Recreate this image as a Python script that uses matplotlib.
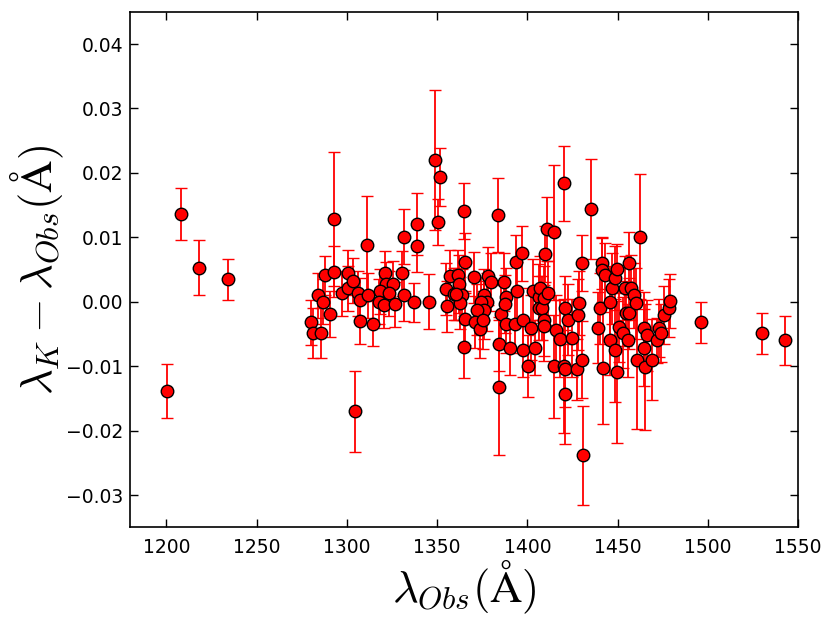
import matplotlib
matplotlib.use("Agg")
import matplotlib.pyplot as plt
import numpy as np

plt.rcParams['mathtext.fontset'] = 'cm'

wavelength = [
    1200.2, 1208.2, 1217.8, 1234.4,
    1280.2, 1281.3, 1283.9, 1285.8, 1286.9, 1288.0, 1290.9, 1293.1, 1293.1, 1297.2,
    1300.5, 1300.5, 1303.5, 1304.6, 1306.0, 1307.1, 1307.1, 1311.0, 1311.6, 1314.6,
    1321.2, 1321.8, 1325.8, 1318.1, 1323.2, 1317.7, 1320.3, 1326.9, 1331.4, 1330.4,
    1331.5, 1338.7, 1338.7, 1337.1, 1345.4,
    1348.7, 1351.5, 1350.4, 1354.8, 1355.3, 1357.4, 1359.2, 1361.8, 1362.4, 1363.7,
    1362.9, 1360.7, 1364.8, 1365.3, 1365.3, 1365.0, 1370.3, 1378.4, 1380.1, 1376.2,
    1377.9, 1374.4, 1376.2, 1372.0, 1371.1, 1373.5, 1375.7, 1384.0, 1385.5, 1384.2,
    1384.5, 1386.9, 1388.0, 1387.7, 1388.3, 1390.6, 1392.9, 1393.8, 1394.1,
    1397.1, 1397.8, 1397.5, 1400.2, 1402.3, 1403.4, 1404.1, 1406.3, 1406.7, 1407.1,
    1408.0, 1409.1, 1409.1, 1409.3, 1409.6, 1411.0, 1411.3, 1415.0, 1414.5, 1416.1,
    1418.0, 1420.4, 1420.6, 1420.2, 1420.9, 1420.9, 1422.4, 1425.0, 1427.6, 1427.9,
    1428.9, 1430.1, 1430.7, 1430.5, 1435.0, 1439.0, 1440.5, 1441.1, 1441.1, 1442.9,
    1442.2, 1445.6, 1445.9, 1446.8, 1448.3, 1448.8, 1449.8, 1449.8, 1451.0, 1453.2,
    1454.0, 1454.7, 1455.5, 1456.2, 1456.4, 1457.5, 1459.3, 1460.4, 1460.8, 1462.7,
    1464.5, 1464.5, 1465.0, 1466.5, 1468.8, 1471.9, 1472.8, 1474.1, 1475.6, 1478.3,
    1479.3,
    1496.3, 1530.3, 1543.0,
]

residual = [
    -0.0139, 0.0136, 0.0053, 0.0035,
    -0.0032, -0.0049, 0.0010, -0.0049, 0.0000, 0.0041, -0.0019, 0.0129, 0.0047, 0.0013,
    0.0045, 0.0021, 0.0033, -0.0170, 0.0013, -0.0030, 0.0002, 0.0088, 0.0010, -0.0034,
    0.0044, 0.0027, 0.0028, 0.0016, 0.0013, 0.0000, -0.0005, -0.0004, 0.0101, 0.0044,
    0.0010, 0.0121, 0.0086, -0.0001, 0.0000,
    0.0220, 0.0193, 0.0124, 0.0020, -0.0007, 0.0040, 0.0012, 0.0041, 0.0028, 0.0011,
    -0.0002, 0.0012, 0.0141, 0.0062, -0.0027, -0.0070, 0.0038, 0.0040, 0.0030, 0.0011,
    0.0000, -0.0001, -0.0013, -0.0012, -0.0031, -0.0042, -0.0029, 0.0135, -0.0019, -0.0066,
    -0.0133, 0.0030, 0.0008, -0.0003, -0.0034, -0.0072, -0.0034, 0.0062, 0.0016,
    0.0075, -0.0029, -0.0075, -0.0100, -0.0040, 0.0017, -0.0071, 0.0008, -0.0010, 0.0021,
    -0.0010, -0.0029, -0.0037, 0.0006, 0.0074, 0.0113, 0.0014, 0.0108, -0.0100, -0.0044,
    -0.0057, 0.0184, -0.0010, -0.0099, -0.0104, -0.0143, -0.0028, -0.0056, -0.0105, -0.0020,
    -0.0002, -0.0090, -0.0238, 0.0060, 0.0144, -0.0040, -0.0010, 0.0060, 0.0049, 0.0042,
    -0.0103, 0.0000, -0.0060, 0.0021, -0.0075, 0.0037, 0.0051, -0.0109, -0.0039, -0.0048,
    0.0021, -0.0018, -0.0060, 0.0060, -0.0018, 0.0022, 0.0010, -0.0002, -0.0090, 0.0101,
    -0.0040, -0.0071, -0.0101, -0.0052, -0.0090, -0.0060, -0.0040, -0.0048, -0.0021, -0.0010,
    0.0001,
    -0.0032, -0.0049, -0.0060,
]

uncertainty = [
    0.0042, 0.0040, 0.0043, 0.0032,
    0.0035, 0.0039, 0.0035, 0.0039, 0.0035, 0.0030, 0.0035, 0.0104, 0.0040, 0.0035,
    0.0035, 0.0035, 0.0035, 0.0063, 0.0035, 0.0035, 0.0035, 0.0076, 0.0035, 0.0035,
    0.0035, 0.0035, 0.0035, 0.0035, 0.0035, 0.0035, 0.0035, 0.0035, 0.0043, 0.0035,
    0.0040, 0.0048, 0.0040, 0.0030, 0.0043,
    0.0108, 0.0045, 0.0036, 0.0040, 0.0040, 0.0040, 0.0040, 0.0040, 0.0045, 0.0040,
    0.0040, 0.0040, 0.0044, 0.0045, 0.0040, 0.0048, 0.0040, 0.0045, 0.0045, 0.0040,
    0.0045, 0.0040, 0.0045, 0.0040, 0.0040, 0.0045, 0.0045, 0.0057, 0.0045, 0.0042,
    0.0105, 0.0045, 0.0045, 0.0045, 0.0045, 0.0042, 0.0045, 0.0042, 0.0045,
    0.0042, 0.0050, 0.0042, 0.0048, 0.0050, 0.0050, 0.0042, 0.0050, 0.0050, 0.0050,
    0.0050, 0.0055, 0.0055, 0.0050, 0.0044, 0.0050, 0.0050, 0.0105, 0.0080, 0.0055,
    0.0060, 0.0058, 0.0050, 0.0104, 0.0060, 0.0078, 0.0055, 0.0060, 0.0047, 0.0055,
    0.0050, 0.0060, 0.0077, 0.0043, 0.0077, 0.0055, 0.0055, 0.0040, 0.0050, 0.0050,
    0.0087, 0.0055, 0.0054, 0.0055, 0.0080, 0.0050, 0.0038, 0.0110, 0.0055, 0.0055,
    0.0050, 0.0050, 0.0056, 0.0049, 0.0055, 0.0050, 0.0050, 0.0055, 0.0108, 0.0097,
    0.0055, 0.0060, 0.0098, 0.0055, 0.0063, 0.0035, 0.0045, 0.0045, 0.0045, 0.0045,
    0.0042,
    0.0032, 0.0032, 0.0038,
]

fig = plt.figure(figsize=(8.3, 6.24), dpi=100)
ax = fig.add_axes([0.157, 0.155, 0.8045, 0.826])

ax.errorbar(wavelength, residual, yerr=uncertainty, fmt='o', color='red',
            ecolor='red', elinewidth=1.3, capsize=4.5, capthick=1.3,
            markerfacecolor='red', markeredgecolor='black', markeredgewidth=1.0,
            markersize=9)

ax.set_xlim(1180, 1550)
ax.set_ylim(-0.035, 0.045)
ax.set_xticks([1200, 1250, 1300, 1350, 1400, 1450, 1500, 1550])
ax.set_yticks([-0.03, -0.02, -0.01, 0.0, 0.01, 0.02, 0.03, 0.04])
ax.yaxis.set_major_formatter(matplotlib.ticker.FuncFormatter(
    lambda v, p: ('%.2f' % v).replace('-', '\u2212')))

ax.tick_params(direction='in', length=6, width=1, top=True, right=True,
               labelsize=13.5, pad=5)
ax.tick_params(axis='x', pad=8)
for s in ax.spines.values():
    s.set_linewidth(1.2)

ax.set_xlabel(r'$\lambda_{Obs}(\mathrm{\AA})$', fontsize=32, labelpad=0)
ax.set_ylabel(r'$\lambda_K-\lambda_{Obs}(\mathrm{\AA})$', fontsize=32, labelpad=0)

fig.savefig('out.png', dpi=100)
